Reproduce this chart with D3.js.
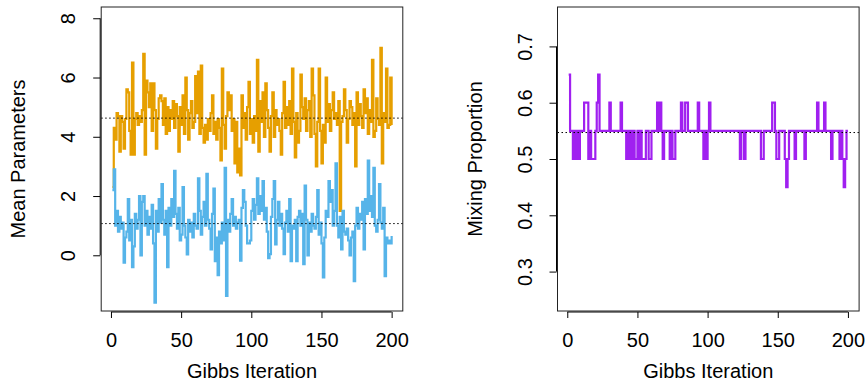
<!DOCTYPE html>
<html>
<head>
<meta charset="utf-8">
<script src="https://cdn.jsdelivr.net/npm/d3@7"></script>
<style>
  body { margin: 0; background: #fff; }
  text { font-family: "Liberation Sans", Arial, Helvetica, sans-serif; fill: #000; }
</style>
</head>
<body>
<div id="chart"></div>
<script>
// Gibbs sampler traces, iterations 1..200
var muOrange = [
  2.3, 4.3, 3.9, 4.8, 4.7, 3.5, 4.7, 4.5, 3.6, 4.6,
  5.6, 5.5, 4.2, 3.4, 6.5, 3.4, 4.6, 4.8, 4.4, 4.7,
  4.5, 4.9, 6.8, 3.4, 5.9, 5.5, 5.0, 5.8, 4.2, 5.8,
  4.9, 3.6, 4.6, 5.3, 5.4, 5.2, 4.4, 5.3, 4.1, 5.0,
  4.2, 4.9, 4.6, 5.2, 4.3, 5.1, 4.7, 3.5, 5.0, 4.4,
  5.4, 4.1, 6.0, 4.9, 3.9, 4.8, 5.2, 4.3, 4.5, 6.05,
  4.8, 6.2, 4.1, 6.4, 4.3, 3.8, 4.4, 3.9, 4.6, 4.2,
  4.8, 5.4, 4.1, 4.5, 3.9, 4.6, 4.3, 3.2, 6.3, 4.4,
  3.6, 4.7, 5.5, 4.9, 5.4, 4.2, 4.6, 3.1, 4.5, 2.8,
  3.6, 2.7, 5.4, 4.3, 4.8, 3.9, 5.0, 5.85, 4.1, 4.6,
  3.8, 4.7, 4.2, 6.6, 3.5, 5.2, 4.5, 5.5, 4.0, 5.8,
  4.9, 4.3, 3.5, 4.7, 5.5, 4.0, 4.9, 4.4, 4.6, 4.2,
  3.4, 4.8, 5.85, 4.3, 5.0, 4.4, 5.2, 4.1, 6.3, 4.5,
  3.3, 4.8, 3.8, 4.2, 6.1, 5.0, 4.6, 5.3, 4.2, 4.9,
  5.2, 4.0, 6.3, 5.4, 4.1, 3.0, 4.5, 6.3, 4.2, 3.1,
  4.4, 3.8, 6.0, 4.5, 5.1, 4.2, 4.9, 5.5, 4.6, 4.8,
  4.4, 5.2, 1.5, 4.5, 4.7, 5.6, 4.9, 3.8, 4.6, 5.2,
  5.0, 4.4, 4.8, 3.0, 5.5, 4.4, 5.1, 4.7, 4.3, 5.6,
  4.8, 5.3, 4.1, 4.9, 4.5, 6.6, 4.0, 4.2, 5.3, 4.6,
  4.4, 7.0, 3.1, 4.8, 4.5, 6.3, 4.3, 4.4, 6.0, 4.4
];
var muBlue = [
  2.2, 2.9, 1.0, 1.5, 0.8, 1.3, 0.9, 1.1, -0.25, 0.6,
  0.8, 1.9, 0.5, 1.2, -0.4, 0.3, 1.4, 0.9, 1.2, 2.0,
  0.0, 1.8, 2.0, 1.0, 1.5, 0.7, 1.3, 0.9, 1.7, 0.4,
  -1.6, 1.5, 0.8, 1.9, 1.1, 2.4, 1.2, 0.7, 1.5, -0.4,
  1.6, 1.0, 1.9, 1.3, 2.85, 1.4, 0.9, 1.6, 0.5, 0.7,
  2.3, 1.0, 0.6, 0.03, 1.2, 0.8, 1.1, 0.6, 1.4, 1.0,
  0.9, 2.6, 1.5, 0.7, 1.3, 1.8, 1.0, 2.75, 1.2, 0.9,
  0.2, 1.4, 2.25, -0.2, 0.6, -0.67, 0.8, 0.4, 1.1, 0.5,
  2.95, -1.37, 1.2, 0.8, 1.4, 1.9, 1.0, 1.3, 0.9, 1.1,
  1.2, -0.18, 1.6, 2.2, 1.8, 1.0, 0.4, 0.4, 0.5, 1.5,
  1.9, 1.2, 1.7, 2.6, 1.4, 2.0, 1.5, 2.5, 1.2, 1.6,
  0.8, -0.1, 0.04, 1.3, 1.9, 2.5, 0.37, 1.2, 1.8, 1.0,
  1.4, 0.9, 0.04, 1.1, 1.5, 0.8, 1.9, -0.2, 1.0, 0.9,
  1.2, -0.2, 1.3, 1.5, 1.0, 1.4, -0.3, 2.35, 1.2, 0.0,
  1.1, 0.8, 1.4, 1.0, 0.9, 1.3, 2.2, 0.7, 1.1, 0.4,
  -0.75, 0.6, 1.5, 1.3, 2.5, 1.8, 2.2, 1.0, 1.5, 3.1,
  1.0, 0.6, 1.3, 0.2, 1.5, 0.8, 0.7, 0.9, 0.5, 0.0,
  0.6, 0.8, -0.87, 1.0, 1.6, 0.9, 1.4, 1.2, 1.8, 0.2,
  1.9, 1.4, 3.2, 1.5, 2.0, 1.3, 2.95, 1.0, 0.8, 1.2,
  2.4, 1.1, 0.9, 1.6, -0.7, 0.6, 0.4, 0.5, 0.4, 0.65
];
var mixProp = [
  .65,.55,.55,.5,.55,.5,.55,.5,.55,.55,  .55,.6,.6,.6,.5,.55,.5,.5,.5,.55,
  .6,.65,.55,.55,.55,.55,.55,.55,.55,.6,  .55,.55,.55,.55,.55,.55,.55,.6,.55,.55,
  .55,.5,.55,.5,.55,.5,.55,.5,.5,.55,  .5,.55,.5,.5,.5,.55,.55,.5,.5,.55,
  .55,.55,.55,.6,.55,.6,.55,.5,.55,.55,  .55,.55,.5,.55,.5,.5,.55,.55,.55,.55,
  .6,.55,.55,.6,.6,.55,.55,.55,.55,.55,  .55,.55,.6,.55,.55,.55,.5,.55,.5,.55,
  .6,.55,.55,.55,.55,.55,.55,.55,.55,.55,  .55,.55,.55,.55,.55,.55,.55,.55,.55,.55,
  .55,.55,.5,.55,.55,.5,.55,.55,.55,.55,  .55,.55,.55,.55,.55,.55,.55,.5,.5,.55,
  .55,.55,.55,.55,.55,.6,.6,.55,.5,.5,  .55,.55,.55,.55,.5,.45,.5,.55,.55,.55,
  .55,.5,.55,.55,.55,.55,.55,.55,.5,.55,  .55,.55,.55,.55,.55,.55,.55,.6,.55,.55,
  .55,.55,.6,.55,.55,.55,.55,.5,.55,.55,  .55,.55,.55,.5,.55,.5,.45,.5,.55,.55
];
var meanLines = [4.63, 1.07];
var mixMean = 0.547;
var xTicks = [0, 50, 100, 150, 200];
var leftTicks = [0, 2, 4, 6, 8];
var rightTicks = [0.3, 0.4, 0.5, 0.6, 0.7];

var W = 868, H = 385;
var plotTop = 7, plotBottom = 311, pw = 301.6;
var panels = [101.2, 557.5];

var svg = d3.select("#chart").append("svg")
  .attr("width", W)
  .attr("height", H);

function panel(x0, yDomain, yTicks, yFmt, yLabel, series, means) {
  var x = d3.scaleLinear().domain([-6.96, 207.96]).range([x0, x0 + pw]);
  var y = d3.scaleLinear().domain(yDomain).range([plotBottom, plotTop]);
  var g = svg.append("g");

  var line = d3.line()
    .x(function(d, i) { return x(i + 1); })
    .y(function(d) { return y(d); })
    .curve(d3.curveStepAfter);

  series.forEach(function(s) {
    g.append("path")
      .attr("d", line(s.values))
      .attr("fill", "none")
      .attr("stroke", s.color)
      .attr("stroke-width", 2.2);
  });

  means.forEach(function(m) {
    g.append("line")
      .attr("x1", x0).attr("x2", x0 + pw)
      .attr("y1", y(m)).attr("y2", y(m))
      .attr("stroke", "#000")
      .attr("stroke-width", 1)
      .attr("stroke-dasharray", "1.5,2.5");
  });

  // box
  g.append("rect")
    .attr("x", x0).attr("y", plotTop)
    .attr("width", pw).attr("height", plotBottom - plotTop)
    .attr("fill", "none")
    .attr("stroke", "#222")
    .attr("stroke-width", 1);

  // x axis
  var xa = g.append("g").attr("transform", "translate(0," + (plotBottom + 1) + ")")
    .call(d3.axisBottom(x).tickValues(xTicks).tickSize(6).tickPadding(0).tickFormat(d3.format("d")));
  xa.select(".domain").attr("d", "M" + x(0) + ",0H" + x(200)).attr("stroke", "#000");
  xa.selectAll(".tick text").attr("y", 35).attr("dy", null)
    .attr("font-size", 20).attr("font-family", "Liberation Sans, Arial, sans-serif");

  // y axis, labels rotated like R's las=0
  var ya = g.append("g").attr("transform", "translate(" + (x0 - 1) + ",0)")
    .call(d3.axisLeft(y).tickValues(yTicks).tickSize(7).tickFormat(d3.format(yFmt)));
  ya.select(".domain")
    .attr("d", "M0," + y(yTicks[0]) + "V" + y(yTicks[yTicks.length - 1]))
    .attr("stroke", "#000");
  ya.selectAll(".tick text")
    .attr("x", null).attr("dy", null)
    .attr("transform", "translate(-25,0) rotate(-90)")
    .attr("text-anchor", "middle")
    .attr("font-size", 20).attr("font-family", "Liberation Sans, Arial, sans-serif");

  svg.append("text")
    .attr("x", x0 + pw / 2)
    .attr("y", 378)
    .attr("text-anchor", "middle")
    .attr("font-size", 20)
    .text("Gibbs Iteration");

  svg.append("text")
    .attr("transform", "translate(" + (x0 - 76) + "," + ((plotTop + plotBottom) / 2) + ") rotate(-90)")
    .attr("text-anchor", "middle")
    .attr("font-size", 20)
    .text(yLabel);
}

panel(panels[0], [-1.88, 8.38], leftTicks, "d", "Mean Parameters",
  [{ values: muOrange, color: "#E69F00" }, { values: muBlue, color: "#56B4E9" }],
  meanLines);

panel(panels[1], [0.23, 0.77], rightTicks, ".1f", "Mixing Proportion",
  [{ values: mixProp, color: "#A020F0" }],
  [mixMean]);
</script>
</body>
</html>
